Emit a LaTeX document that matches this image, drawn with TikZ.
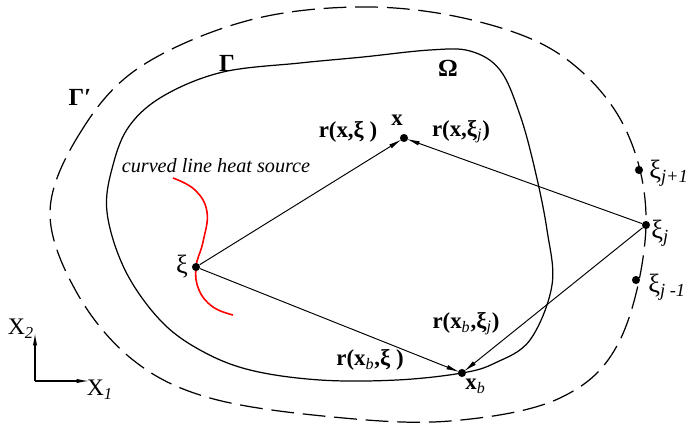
\documentclass[tikz,border=0pt]{standalone}
\usepackage{fontspec}
\setmainfont{Liberation Serif}
\usetikzlibrary{arrows.meta}

\newcommand{\sbi}[1]{\textsubscript{\normalfont\itshape #1}}

\begin{document}
\begin{tikzpicture}[x=0.02cm, y=-0.02cm,
        dot/.style={circle, fill=black, inner sep=0pt, minimum size=4.6pt},
        vec/.style={line width=0.55pt, -{Latex[length=7.5pt,width=2.6pt]}, shorten >=-1pt},
        bnd/.style={line width=0.7pt},
        rlbl/.style={font=\fontsize{13}{15}\selectfont\bfseries},
        glbl/.style={font=\fontsize{15}{17}\selectfont},
        every node/.style={inner sep=0pt}]

        \useasboundingbox (0,0) rectangle (687,426);

        % boundaries
        \draw [bnd, dash pattern=on 13pt off 5pt] plot [smooth cycle, tension=0.6] coordinates {
          (50,212) (80,133) (140,67) (250,20) (370,7) (480,22) (565,58) (625,128)
          (646,225) (620,340) (560,398) (450,421) (333,417) (210,398) (133,360) (77,293)};
        \draw [bnd] plot [smooth cycle, tension=0.6] coordinates {
          (107,212) (113,165) (130,125) (165,95) (223,72) (300,63) (363,57) (430,50)
          (470,51) (500,70) (520,115) (535,170) (547,230) (552,285) (530,340)
          (495,363) (462,373) (397,380) (320,380) (250,370) (200,350) (160,320) (125,270)};

        % heat source
        \draw [red, line width=0.9pt] plot [smooth, tension=0.7] coordinates {
          (173,178) (195,190) (207,212) (203,242) (196,267) (199,290) (213,307) (233,315)};

        \node[dot] (src) at (196,267) {};
        \node[dot] (xpt) at (404,138) {};
        \node[dot] (xb) at (462,373) {};
        \node[dot] (xj) at (646,225) {};
        \node[dot] (xjp) at (639,170) {};
        \node[dot] (xjm) at (636,280) {};

        \begin{scope}[vec]
        \draw (src) -- (xpt);
        \draw (src) -- (xb);
        \draw (xj) -- (xpt);
        \draw (xj) -- (xb);
        \end{scope}

        \node[font=\fontsize{14}{16}\selectfont\bfseries] (gp) at (80,97) {Γ′};
        \node[font=\fontsize{14}{16}\selectfont\bfseries] (g) at (227,63) {Γ};
        \node[font=\fontsize{14}{16}\selectfont\bfseries] (om) at (448,68) {Ω};
        \node[font=\fontsize{11.5}{14}\selectfont\itshape] (hs) at (216,166) {curved line heat source};

        \node[glbl] (lsrc) at (182,267) {ξ};
        \node[glbl, anchor=west] (ljp) at (649,173) {ξ\sbi{j+1}};
        \node[glbl, anchor=west] (lj) at (651,233) {ξ\sbi{j}};
        \node[glbl, anchor=west] (ljm) at (648,287) {ξ\sbi{j -1}};

        \node[rlbl] (rx) at (348,132) {r(x,ξ )};
        \node[rlbl] (rxj) at (461,132) {r(x,ξ\sbi{j})};
        \node[rlbl] (rbj) at (466,324) {r(x\sbi{b},ξ\sbi{j})};
        \node[rlbl] (rb) at (370,360) {r(x\sbi{b},ξ )};
        \node[rlbl] (lx) at (397,120) {x};
        \node[rlbl, anchor=west] (lxb) at (465,386) {x\sbi{b}};

        % axes
        \coordinate (o) at (35,381);
        \coordinate (e1) at (89,381);
        \coordinate (e2) at (35,333);
        \draw [line width=0.6pt, -{Latex[length=7pt,width=2.4pt]}] (o) -- (e1);
        \draw [line width=0.6pt, -{Latex[length=7pt,width=2.4pt]}] (o) -- (e2);
        \node[font=\fontsize{13.5}{15}\selectfont] (a2) at (21,329) {X\sbi{2}};
        \node[font=\fontsize{13.5}{15}\selectfont] (a1) at (100,390) {X\sbi{1}};

\end{tikzpicture}
\end{document}
